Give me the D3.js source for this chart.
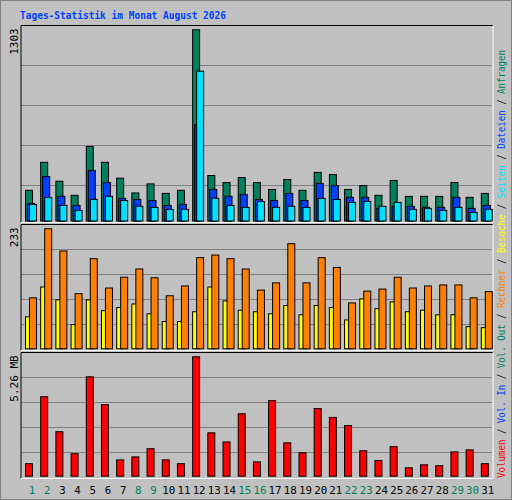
<!DOCTYPE html>
<html><head><meta charset="utf-8">
<script src="https://cdn.jsdelivr.net/npm/d3@7"></script>
<style>body{margin:0;background:#fff}</style></head>
<body><svg id="c" width="512" height="500"></svg>
<script>
const days = d3.range(1,32).map(String);
const weekend = ["1","2","8","9","15","16","22","23","29","30"];
const hits  = [209,400,271,175,508,400,292,191,253,188,209,1303,310,262,296,262,215,283,209,331,317,215,242,175,276,168,168,168,262,161,188];
const files = [120,303,168,106,344,262,154,147,140,106,113,656,215,168,181,147,140,188,140,256,242,161,161,86,100,100,93,93,161,86,106];
const pages = [113,160,106,72,147,168,140,100,93,79,79,1021,154,106,93,133,93,100,93,154,147,127,133,100,127,79,86,72,93,58,79];
const visits= [62,120,95,47,95,74,80,87,68,53,53,72,120,93,75,72,68,84,66,84,80,56,97,78,91,72,75,66,66,43,41];
const sites = [99,233,190,107,175,118,139,155,138,103,122,177,182,175,155,114,128,204,128,177,158,89,112,116,139,118,122,124,124,99,111];
const volume= [0.55,3.50,1.96,0.99,4.38,3.15,0.72,0.85,1.21,0.72,0.55,5.26,1.91,1.51,2.75,0.63,3.33,1.47,1.03,2.98,2.59,2.23,1.12,0.69,1.30,0.37,0.50,0.46,1.07,1.16,0.55];
const yLabels = ["1303","233","5.26 MB"];
const legend = [["Volumen","#ff0000"],["Vol. In","#0040ff"],["Vol. Out","#00805c"],["Rechner","#ff8000"],["Besuche","#ffff00"],["Seiten","#00e0ff"],["Dateien","#0040ff"],["Anfragen","#00805c"]];

const svg = d3.select("#c");
const font = "'DejaVu Sans Mono', monospace";
svg.append("rect").attr("width",512).attr("height",500).attr("fill","#c0c0c0");
svg.append("rect").attr("x",0.5).attr("y",0.5).attr("width",511).attr("height",499).attr("fill","none").attr("stroke","#808080");
svg.append("text").attr("x",20).attr("y",19).attr("font-family",font).attr("font-size",11).attr("font-weight","bold").attr("fill","#0040ff")
  .attr("textLength",206).attr("lengthAdjust","spacingAndGlyphs").text("Tages-Statistik im Monat August 2026");

const x = d3.scaleBand().domain(days).range([21,492]).paddingInner(0);
const X0 = d => x(d)+4;

function panel(top, bottom, base, maxV, maxY, grids, label){
  const y = d3.scaleLinear().domain([0,maxV]).range([base,maxY]);
  grids.forEach(g=>svg.append("line").attr("x1",21).attr("x2",492).attr("y1",g).attr("y2",g).attr("stroke","#808080"));
  svg.append("line").attr("x1",21).attr("x2",493).attr("y1",top).attr("y2",top).attr("stroke","#000");
  svg.append("line").attr("x1",21).attr("x2",21).attr("y1",top).attr("y2",bottom).attr("stroke","#000");
  svg.append("line").attr("x1",21).attr("x2",493).attr("y1",bottom).attr("y2",bottom).attr("stroke","#fff");
  svg.append("line").attr("x1",493).attr("x2",493).attr("y1",top).attr("y2",bottom).attr("stroke","#fff");
  svg.append("text").attr("transform",`translate(18,${maxY-1}) rotate(-90)`).attr("text-anchor","end")
    .attr("font-family",font).attr("font-size",11).attr("fill","#000").text(label);
  return y;
}
function bars(data, y, off, w, color){
  svg.append("g").selectAll("rect").data(data).join("rect")
    .attr("x",(d,i)=>X0(days[i])+off+0.5).attr("width",w)
    .attr("y",d=>y(d)+0.5).attr("height",d=>Math.max(0,y(0)-y(d)))
    .attr("fill",color).attr("stroke","#000").attr("stroke-width",1);
}
const y1 = panel(25.5,222.5,220.5,1303,29.3,[65.5,105.5,145.5,185.5],yLabels[0]);
bars(hits,y1,0,7,"#00805c");
bars(files,y1,2,7,"#0040ff");
bars(pages,y1,4,7,"#00e0ff");
const y2 = panel(224.5,350.5,348.3,233,228.3,[249.5,274.5,299.5,324.5],yLabels[1]);
bars(visits,y2,0,7,"#ffff00");
bars(sites,y2,4,7,"#ff8000");
const y3 = panel(352.5,478.5,475.7,5.26,356.3,[377.5,402.5,427.5,452.5],yLabels[2]);
bars(volume,y3,0,7,"#ff0000");

svg.append("g").selectAll("text").data(days).join("text")
  .attr("x",d=>X0(d)+7).attr("y",494).attr("text-anchor","middle")
  .attr("font-family",font).attr("font-size",11)
  .attr("textLength",d=>d.length>1?13:6.5).attr("lengthAdjust","spacingAndGlyphs")
  .attr("fill",d=>weekend.includes(d)?"#00805c":"#000").text(d=>d);

const lt = svg.append("text").attr("transform","translate(505,478) rotate(-90)")
  .attr("font-family",font).attr("font-size",11)
  .attr("textLength",428).attr("lengthAdjust","spacingAndGlyphs");
legend.forEach((l,i)=>{
  if(i>0) lt.append("tspan").attr("fill","#000").text(" / ");
  lt.append("tspan").attr("fill",l[1]).text(l[0]);
});
</script></body></html>
